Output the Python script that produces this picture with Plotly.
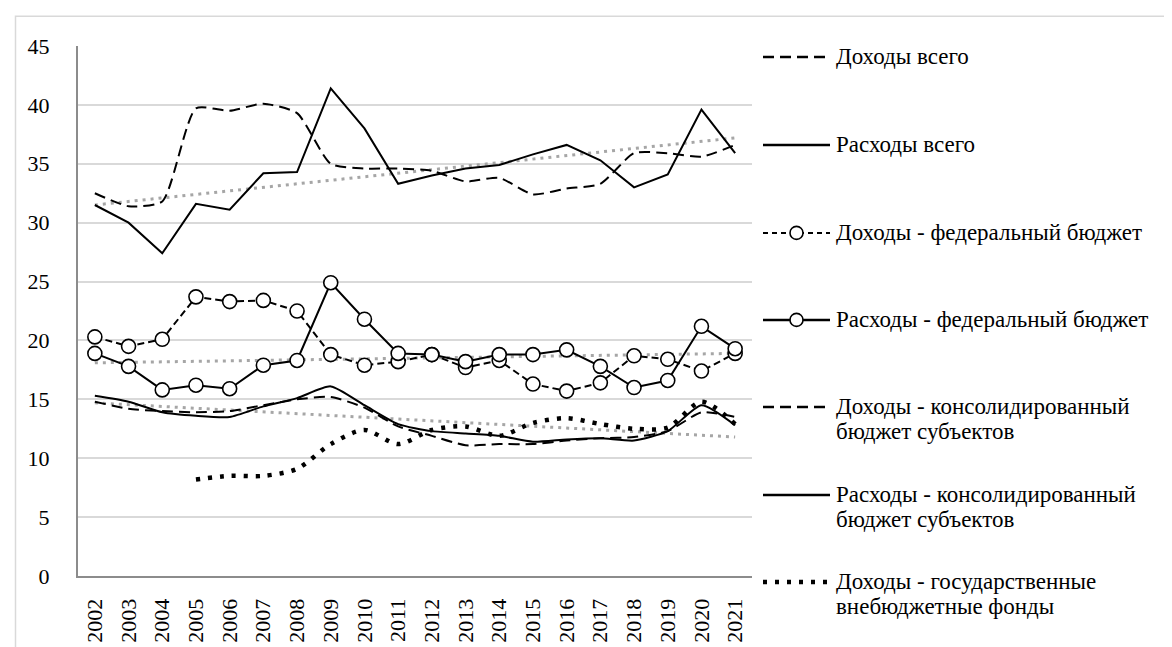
import plotly.graph_objects as go

years = [str(y) for y in range(2002, 2022)]

dohody_vsego = [32.5, 31.4, 31.8, 39.7, 39.5, 40.1, 39.3, 35.0, 34.6, 34.6, 34.4, 33.5, 33.8, 32.4, 32.9, 33.3, 35.9, 35.9, 35.6, 36.6]
rashody_vsego = [31.5, 30.0, 27.4, 31.6, 31.1, 34.2, 34.3, 41.4, 38.0, 33.3, 34.0, 34.6, 34.9, 35.8, 36.6, 35.3, 33.0, 34.1, 39.6, 35.9]
dohody_fed = [20.3, 19.5, 20.1, 23.7, 23.3, 23.4, 22.5, 18.8, 17.9, 18.2, 18.8, 17.7, 18.3, 16.3, 15.7, 16.4, 18.7, 18.4, 17.4, 18.9]
rashody_fed = [18.9, 17.8, 15.8, 16.2, 15.9, 17.9, 18.3, 24.9, 21.8, 18.9, 18.8, 18.2, 18.8, 18.8, 19.2, 17.8, 16.0, 16.6, 21.2, 19.3]
dohody_kons = [14.8, 14.2, 14.0, 13.9, 14.0, 14.5, 15.0, 15.2, 14.3, 12.7, 11.9, 11.1, 11.2, 11.2, 11.5, 11.7, 11.8, 12.3, 13.9, 13.5]
rashody_kons = [15.3, 14.8, 13.9, 13.6, 13.5, 14.4, 15.1, 16.1, 14.5, 12.9, 12.3, 12.1, 11.9, 11.4, 11.6, 11.7, 11.5, 12.3, 14.5, 12.8]
dohody_fondy = [None, None, None, 8.2, 8.5, 8.5, 9.1, 11.2, 12.4, 11.2, 12.4, 12.7, 11.9, 13.0, 13.4, 12.9, 12.5, 12.6, 14.8, 12.9]

# linear trend lines (start / end values)
trend_years = ["2002", "2021"]
trend_total = [31.5, 37.2]
trend_fed = [18.1, 18.9]
trend_kons = [14.7, 11.8]

names = [
    "Доходы всего",
    "Расходы всего",
    "Доходы - федеральный бюджет",
    "Расходы - федеральный бюджет",
    "Доходы - консолидированный<br>бюджет субъектов",
    "Расходы - консолидированный<br>бюджет субъектов",
    "Доходы - государственные<br>внебюджетные фонды",
]

y_ticks = [0, 5, 10, 15, 20, 25, 30, 35, 40, 45]

FONT = "'Times New Roman', 'Liberation Serif', 'DejaVu Serif', 'Noto Serif', serif"
W, H = 1172, 647
L, R, T, B = 70, 744, 38, 574

GRAY = "#a6a6a6"
DASH_LONG = "11px,6px"
DASH_FED = "7px,4px"
DOTS = "4px,8px"
TREND_DOT = "3px,5px"

fig = go.Figure()

for tv in (trend_total, trend_fed, trend_kons):
    fig.add_trace(go.Scatter(x=trend_years, y=tv, mode="lines",
                             line=dict(color=GRAY, width=3, dash=TREND_DOT),
                             showlegend=False, hoverinfo="skip"))

series = [
    (dohody_vsego, dict(dash=DASH_LONG, shape="spline", smoothing=0.6), None),
    (rashody_vsego, dict(dash="solid"), None),
    (dohody_kons, dict(dash=DASH_LONG, shape="spline", smoothing=0.6), None),
    (rashody_kons, dict(dash="solid", shape="spline", smoothing=0.6), None),
    (dohody_fondy, dict(dash=DOTS, shape="spline", smoothing=0.8, width=4.5), None),
    (dohody_fed, dict(dash=DASH_FED), "o"),
    (rashody_fed, dict(dash="solid"), "o"),
]
order_names = [names[0], names[1], names[4], names[5], names[6], names[2], names[3]]
for (vals, ln, mk), nm in zip(series, order_names):
    line = dict(color="black", width=2)
    line.update(ln)
    kw = {}
    if mk:
        kw["marker"] = dict(symbol="circle", size=14, color="white",
                            line=dict(color="black", width=1.6))
        mode = "lines+markers"
    else:
        mode = "lines"
    fig.add_trace(go.Scatter(x=years, y=vals, mode=mode, line=line,
                             name=nm.replace("<br>", " "), showlegend=False,
                             connectgaps=False, **kw))


def px_x(p):
    return (p - L) / (R - L)


def px_y(p):
    return (B - p) / (B - T)


shapes = []
annotations = []

# outer chart-area border (cropped at right and bottom)
shapes.append(dict(type="rect", xref="paper", yref="paper",
                   x0=px_x(7.5), x1=px_x(1190), y0=px_y(680), y1=px_y(8),
                   line=dict(color="#d9d9d9", width=1.5), layer="below"))

# custom legend
rows = [49, 138, 227, 315, 403, 492, 580]
leg_styles = [
    dict(dash=DASH_LONG, width=2.5, marker=False),
    dict(dash="solid", width=2.5, marker=False),
    dict(dash="5px,4px", width=2, marker=True),
    dict(dash="solid", width=2.5, marker=True),
    dict(dash=DASH_LONG, width=2.5, marker=False),
    dict(dash="solid", width=2.5, marker=False),
    dict(dash="4px,8px", width=4.5, marker=False),
]
x0l, x1l, xt = 755, 822, 826
for nm, ry, st in zip(names, rows, leg_styles):
    shapes.append(dict(type="line", xref="paper", yref="paper",
                       x0=px_x(x0l), x1=px_x(x1l), y0=px_y(ry), y1=px_y(ry),
                       line=dict(color="black", width=st["width"], dash=st["dash"])))
    if st["marker"]:
        shapes.append(dict(type="circle", xref="paper", yref="paper",
                           xsizemode="pixel", ysizemode="pixel",
                           xanchor=px_x((x0l + x1l) / 2), yanchor=px_y(ry),
                           x0=-6.5, x1=6.5, y0=-6.5, y1=6.5,
                           fillcolor="white", line=dict(color="black", width=1.6)))
    for i, part in enumerate(nm.split("<br>")):
        annotations.append(dict(xref="paper", yref="paper", x=px_x(xt), y=px_y(ry + i * 25),
                                xanchor="left", yanchor="middle", showarrow=False,
                                text=part, font=dict(family=FONT, size=23, color="black")))

fig.update_layout(
    width=W, height=H,
    margin=dict(l=L, r=W - R, t=T, b=H - B, pad=0),
    paper_bgcolor="white", plot_bgcolor="white",
    showlegend=False,
    font=dict(family=FONT, size=22, color="black"),
    shapes=shapes, annotations=annotations,
    xaxis=dict(type="category", categoryorder="array", categoryarray=years,
               range=[-0.5, len(years) - 0.5], tickangle=-90,
               showgrid=False, showline=True, linecolor="#8c8c8c", linewidth=2,
               ticks="", ticklabelstandoff=12, zeroline=False,
               tickfont=dict(family=FONT, size=22, color="black")),
    yaxis=dict(range=[0, 45], tickvals=y_ticks, showgrid=True,
               gridcolor="#d9d9d9", gridwidth=1.5, zeroline=False,
               showline=True, linecolor="#8c8c8c", linewidth=2,
               ticks="", ticklabelstandoff=22,
               tickfont=dict(family=FONT, size=22, color="black")),
)

fig.write_html("out.html")
